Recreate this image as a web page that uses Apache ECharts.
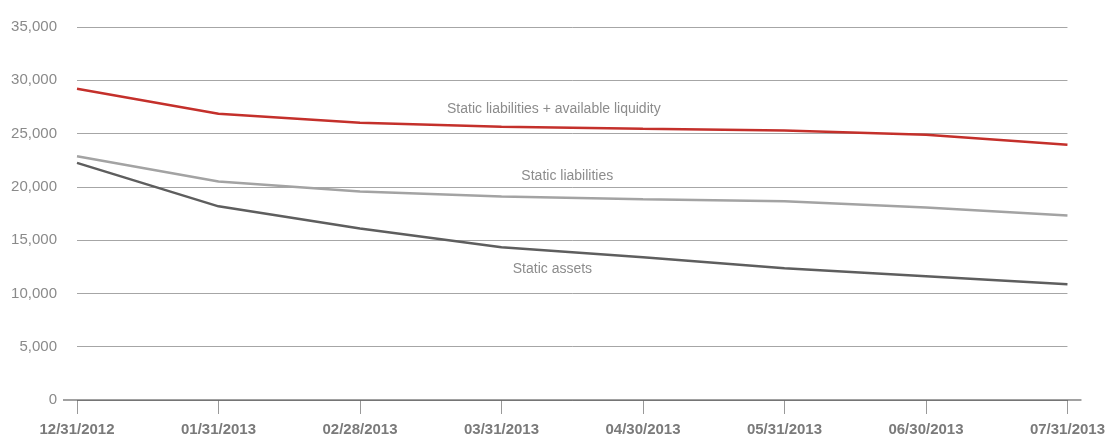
<!DOCTYPE html>
<html>
<head>
<meta charset="utf-8">
<script src="https://cdn.jsdelivr.net/npm/echarts@6/dist/echarts.min.js"></script>
<style>
html,body{margin:0;padding:0;background:#fff;}
#main{width:1108px;height:437px;}
</style>
</head>
<body>
<div id="main"></div>
<script>
var categories = ['12/31/2012','01/31/2013','02/28/2013','03/31/2013','04/30/2013','05/31/2013','06/30/2013','07/31/2013'];
var liabPlusLiquidity = [29200, 26850, 26020, 25650, 25460, 25280, 24900, 23960];
var staticLiabilities = [22870, 20500, 19560, 19100, 18830, 18640, 18070, 17320];
var staticAssets = [22250, 18170, 16100, 14330, 13400, 12370, 11620, 10870];
var seriesNames = ['Static liabilities + available liquidity', 'Static liabilities', 'Static assets'];
var yTicks = [0, 5000, 10000, 15000, 20000, 25000, 30000, 35000];

var FONT = '"Liberation Sans", Arial, sans-serif';
var chart = echarts.init(document.getElementById('main'));

function lineSeries(name, data, color, z) {
  return {
    name: name, type: 'line', data: data, symbol: 'none', smooth: false, z: z,
    lineStyle: { color: color, width: 2.5 }
  };
}

chart.setOption({
  animation: false,
  grid: { left: 77, right: 39, top: 27, bottom: 36 },
  xAxis: {
    type: 'category', data: categories, boundaryGap: false,
    axisLine: { show: false },
    axisTick: { show: true, alignWithLabel: true, length: 14, lineStyle: { color: '#999', width: 1 } },
    axisLabel: { color: '#7a7a7a', fontFamily: FONT, fontSize: 15, fontWeight: 'bold', margin: 22, interval: 0 },
    splitLine: { show: false }
  },
  yAxis: {
    type: 'value', min: yTicks[0], max: yTicks[yTicks.length - 1], interval: 5000,
    axisLine: { show: false }, axisTick: { show: false },
    axisLabel: {
      color: '#8a8a8a', fontFamily: FONT, fontSize: 15, margin: 20, verticalAlign: 'middle', padding: [0, 0, 8, 0],
      formatter: function (v) { return v.toLocaleString('en-US'); }
    },
    splitLine: { show: true, lineStyle: { color: '#a6a6a6', width: 1 } }
  },
  series: [
    lineSeries(seriesNames[0], liabPlusLiquidity, '#c4302b', 5),
    lineSeries(seriesNames[1], staticLiabilities, '#a3a3a3', 3),
    lineSeries(seriesNames[2], staticAssets, '#5e5e5e', 4)
  ]
});

// annotations positioned from data coordinates (fractional category interpolated)
function px(cat, val) {
  var i = Math.floor(cat), f = cat - i;
  var a = chart.convertToPixel({ gridIndex: 0 }, [i, val]);
  var b = chart.convertToPixel({ gridIndex: 0 }, [Math.min(i + 1, categories.length - 1), val]);
  return [a[0] + (b[0] - a[0]) * f, a[1]];
}
var p0 = px(0, 0), pEnd = px(categories.length - 1, 0);
var labelPos = [
  { text: seriesNames[0], at: px(3.37, 27300) },
  { text: seriesNames[1], at: px(3.465, 20970) },
  { text: seriesNames[2], at: px(3.36, 12300) }
];
var graphics = [{
  type: 'line', z: 10,
  shape: { x1: p0[0] - 14, y1: p0[1], x2: pEnd[0] + 14, y2: pEnd[1] },
  style: { stroke: '#444', lineWidth: 1.2 }
}];
labelPos.forEach(function (l) {
  graphics.push({
    type: 'text', x: l.at[0], y: l.at[1], z: 20,
    style: { text: l.text, fill: '#8c8c8c', font: '14px ' + FONT, textAlign: 'center', textVerticalAlign: 'middle' }
  });
});
chart.setOption({ graphic: graphics });
</script>
</body>
</html>
